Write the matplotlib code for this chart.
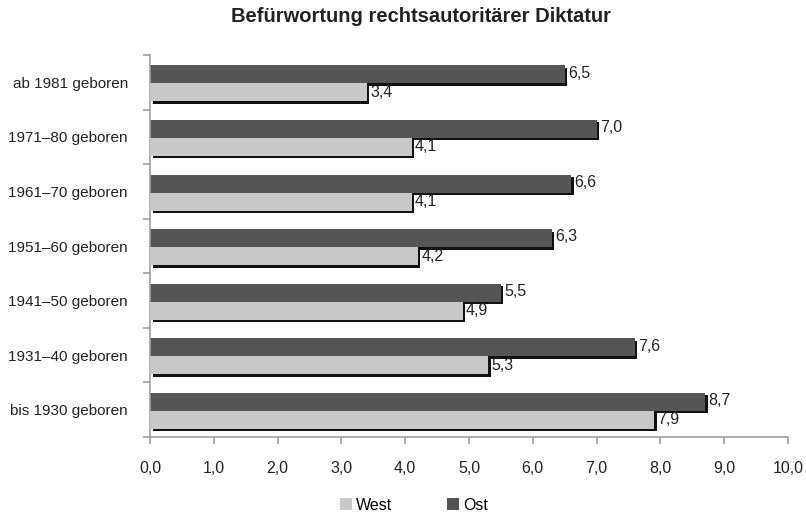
import matplotlib
matplotlib.use("Agg")
import matplotlib.pyplot as plt
import matplotlib.patheffects as pe
import numpy as np

categories = ["ab 1981 geboren", "1971–80 geboren", "1961–70 geboren", "1951–60 geboren",
              "1941–50 geboren", "1931–40 geboren", "bis 1930 geboren"]
west = [3.4, 4.1, 4.1, 4.2, 4.9, 5.3, 7.9]
ost = [6.5, 7.0, 6.6, 6.3, 5.5, 7.6, 8.7]
xticks = [0, 1, 2, 3, 4, 5, 6, 7, 8, 9, 10]
title = "Befürwortung rechtsautoritärer Diktatur"

plt.rcParams['font.family'] = ['Liberation Sans', 'DejaVu Sans']

fig = plt.figure(figsize=(8.06, 5.13), dpi=100)
ax = fig.add_axes([150/806, 1-437/513, (788-150)/806, (437-55)/513])

y = np.arange(len(categories))
h = 0.33
shadow = [pe.SimplePatchShadow(offset=(1.8, -1.8), shadow_rgbFace='#111111', alpha=1.0), pe.Normal()]

bo = ax.barh(y - h/2 + 0.02, ost, height=h, color='#555555', label='Ost', zorder=2)
bw = ax.barh(y + h/2 + 0.02, west, height=h, color='#c8c8c8', label='West', zorder=3)
for b in list(bo) + list(bw):
    b.set_path_effects(shadow)

fs = 11.5
for yi, v in zip(y, ost):
    ax.text(v + 0.05, yi - h/2 + 0.0, f"{v:.1f}".replace('.', ','), va='center', ha='left', fontsize=fs, color='#222222', zorder=5)
for yi, v in zip(y, west):
    ax.text(v + 0.05, yi + h/2 + 0.02, f"{v:.1f}".replace('.', ','), va='center', ha='left', fontsize=fs, color='#222222', zorder=5)

ax.set_xlim(0, 10)
ax.set_ylim(len(categories) - 0.5, -0.5)
ax.set_xticks(xticks)
ax.set_xticklabels([f"{t:.1f}".replace('.', ',') for t in xticks], fontsize=fs, color='#222222')
ax.set_yticks(y)
ax.set_yticklabels(categories, fontsize=11, color='#222222')
ax.set_yticks(np.arange(len(categories) + 1) - 0.5, minor=True)
ax.tick_params(axis='y', which='major', length=0, pad=16)
ax.tick_params(axis='y', which='minor', length=5, color='#a0a0a0', width=1.2)
ax.tick_params(axis='x', which='major', length=5, color='#a0a0a0', width=1.2, pad=12)

for s in ['top', 'right']:
    ax.spines[s].set_visible(False)
for s in ['left', 'bottom']:
    ax.spines[s].set_color('#a0a0a0')
    ax.spines[s].set_linewidth(1.2)

fig.text(421 / 806, 1 - 17/513, title, ha='center', va='center', fontsize=14.5,
         fontweight='bold', color='#222222')

handles = [bw, bo]
leg = fig.legend(handles, ['West', 'Ost'], loc='center', bbox_to_anchor=(414/806, 1 - 505/513), ncol=2,
                 frameon=False, fontsize=fs, handlelength=0.75, handleheight=0.75, columnspacing=3.4,
                 handletextpad=0.25, borderpad=0, borderaxespad=0)
for hd in leg.legend_handles:
    hd.set_path_effects([])

fig.savefig("out.png", dpi=100, facecolor='white')
